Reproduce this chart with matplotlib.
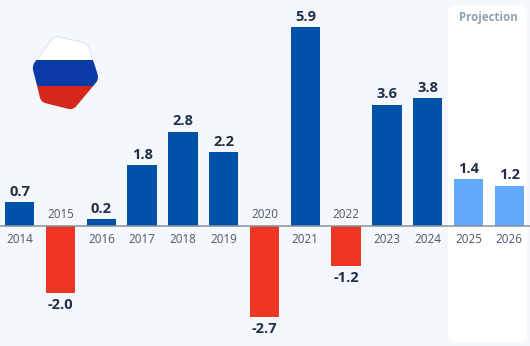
import matplotlib
matplotlib.use("Agg")
import matplotlib.pyplot as plt
from matplotlib.patches import FancyBboxPatch, PathPatch, Rectangle
from matplotlib.path import Path
from matplotlib.transforms import Affine2D
import numpy as np

years = [2014, 2015, 2016, 2017, 2018, 2019, 2020, 2021, 2022, 2023, 2024, 2025, 2026]
growth = [0.7, -2.0, 0.2, 1.8, 2.8, 2.2, -2.7, 5.9, -1.2, 3.6, 3.8, 1.4, 1.2]
projected_years = [2025, 2026]

WIDTH, HEIGHT = 530, 346
BG = "#f4f7fb"
BLUE = "#0051a8"
LIGHT_BLUE = "#62a9fb"
RED = "#ef3524"
VALUE_INK = "#1f2f45"
YEAR_INK = "#4c5a68"

plt.rcParams["font.family"] = ["Open Sans", "DejaVu Sans"]

fig = plt.figure(figsize=(WIDTH / 100, HEIGHT / 100), dpi=100, facecolor=BG)
ax = fig.add_axes([0, 0, 1, 1])
ax.set_facecolor(BG)
ax.axis("off")

# Axis limits chosen so one year step is 40.8 px and one point is 33.7 px.
step, first_x, baseline_px, unit_px = 40.8, 19.7, 226.0, 33.7
ax.set_xlim(-first_x / step, (WIDTH - first_x) / step)
ax.set_ylim(-(HEIGHT - baseline_px) / unit_px, baseline_px / unit_px)

# Pixel space with the origin at the top left, for the panel and the flag.
px = Affine2D().scale(1, -1).translate(0, HEIGHT)

ax.add_patch(FancyBboxPatch((448, 5), 79, 338, boxstyle="round,pad=0,rounding_size=9",
                            fc="white", ec="none", transform=px, zorder=1))
ax.text(488.5, 18, "Projection", transform=px, ha="center", va="center",
        fontsize=8.3, fontweight="bold", color="#8da2b2", zorder=5)

x = np.arange(len(years))
colors = [LIGHT_BLUE if y in projected_years else (RED if v < 0 else BLUE)
          for y, v in zip(years, growth)]
ax.bar(x, growth, width=29.5 / step, color=colors, zorder=3)
ax.axhline(0, color="#87919b", lw=1.1, zorder=4)

for xi, year, value in zip(x, years, growth):
    up = value >= 0
    ax.annotate(f"{value:.1f}", (xi, value), xytext=(0, 7.4 if up else -8.6),
                textcoords="offset points", ha="center", va="center",
                fontsize=10.5, fontweight="bold", color=VALUE_INK, zorder=5)
    ax.annotate(str(year), (xi, 0), xytext=(0, -9.4 if up else 8),
                textcoords="offset points", ha="center", va="center",
                fontsize=8.4, color=YEAR_INK, zorder=5)


def rounded_polygon(points, radius):
    """Closed path through the points with each corner rounded off."""
    pts = np.asarray(points, float)
    n = len(pts)
    verts, codes = [], []
    for i in range(n):
        p, prev, nxt = pts[i], pts[i - 1], pts[(i + 1) % n]
        a = p + (prev - p) / np.linalg.norm(prev - p) * radius
        b = p + (nxt - p) / np.linalg.norm(nxt - p) * radius
        verts += [a, p, b]
        codes += [Path.MOVETO if i == 0 else Path.LINETO, Path.CURVE3, Path.CURVE3]
    verts.append(verts[0])
    codes.append(Path.CLOSEPOLY)
    return Path(verts, codes)


# Hexagonal Russian flag badge
badge = rounded_polygon([(54, 36), (87, 43), (93, 60), (99, 79), (73, 110),
                         (41, 102), (37, 85), (32, 66)], 5)
ax.add_patch(PathPatch(badge, transform=px, fc="white", ec="#d8dde6", lw=0.6, zorder=3))
for top, bottom, color in [(59.5, 85.5, "#0a3aa6"), (85.5, 112, "#d5281b")]:
    stripe = Rectangle((25, top), 80, bottom - top, fc=color, ec="none",
                       transform=px, zorder=3.1)
    ax.add_patch(stripe)
    stripe.set_clip_path(badge, px)

fig.savefig("out.png", dpi=100, facecolor=BG)
